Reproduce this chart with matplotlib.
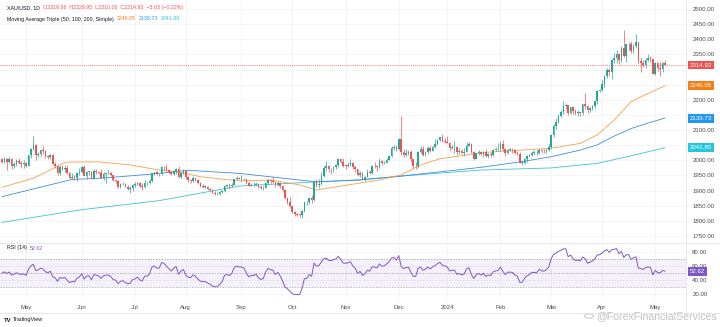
import numpy as np
import pandas as pd
import matplotlib
matplotlib.use("Agg")
import matplotlib.pyplot as plt
import matplotlib.transforms as mtransforms
from matplotlib.lines import Line2D
from matplotlib.patches import Circle

plt.rcParams['font.family'] = ['Liberation Sans', 'DejaVu Sans']

# ---------------------------------------------------------------- data ----
session_start = "2023-04-17"
session_end = "2024-05-07"
closed_days = ["2023-12-25", "2024-01-01"]

symbol = "XAU/USD, 1D"
first_open = 2004.0

close = [
    # Apr 2023
    1995, 2005, 1994, 2004, 1983, 1989, 1998, 1990, 1988, 1990,
    # May
    1983, 2017, 2039, 2050, 2017, 2022, 2034, 2030, 2015, 2011, 2018, 1989,
    1982, 1958, 1977, 1971, 1975, 1957, 1941, 1946, 1943, 1958, 1963,
    # Jun
    1978, 1948, 1962, 1963, 1940, 1965, 1961, 1957, 1943, 1955, 1958, 1958,
    1951, 1936, 1933, 1913, 1921, 1923, 1913, 1907, 1908, 1919,
    # Jul
    1921, 1926, 1915, 1911, 1925, 1925, 1932, 1957, 1961, 1955, 1955, 1979,
    1977, 1969, 1962, 1955, 1965, 1972, 1946, 1959, 1965,
    # Aug
    1944, 1934, 1933, 1942, 1936, 1925, 1915, 1913, 1913, 1907, 1901, 1892,
    1889, 1889, 1894, 1899, 1915, 1917, 1914, 1920, 1937, 1942, 1940,
    # Sep
    1940, 1938, 1926, 1916, 1919, 1919, 1922, 1913, 1908, 1910, 1924, 1934,
    1931, 1930, 1920, 1925, 1916, 1901, 1875, 1864, 1849,
    # Oct
    1828, 1822, 1821, 1820, 1833, 1861, 1861, 1874, 1868, 1932, 1919, 1923,
    1947, 1974, 1981, 1973, 1971, 1979, 1985, 2006, 1996, 1983,
    # Nov
    1982, 1985, 1992, 1978, 1970, 1950, 1958, 1940, 1946, 1963, 1959, 1981,
    1980, 1977, 1998, 1990, 1992, 2002, 2014, 2041, 2044, 2036,
    # Dec
    2072, 2029, 2019, 2025, 2028, 2004, 1981, 1980, 2027, 2036, 2019, 2027,
    2040, 2031, 2045, 2053, 2067, 2077, 2065, 2062,
    # Jan 2024
    2058, 2041, 2043, 2045, 2027, 2030, 2024, 2028, 2049, 2055, 2028, 2006,
    2023, 2029, 2021, 2029, 2014, 2020, 2018, 2033, 2037, 2039,
    # Feb
    2054, 2039, 2025, 2035, 2035, 2034, 2024, 2020, 1992, 1992, 2004, 2013,
    2017, 2025, 2025, 2024, 2035, 2031, 2030, 2034, 2044,
    # Mar
    2083, 2114, 2128, 2148, 2160, 2179, 2182, 2158, 2175, 2162, 2156, 2160,
    2157, 2186, 2181, 2165, 2172, 2179, 2195, 2230, 2233,
    # Apr
    2251, 2280, 2300, 2291, 2330, 2339, 2352, 2333, 2372, 2344, 2383, 2383,
    2361, 2379, 2392, 2327, 2322, 2316, 2332, 2337, 2335, 2286,
    # May
    2320, 2304, 2301, 2319.96, 2314.93,
]

high = [
    2007, 2010, 2008, 2012, 2007, 1994, 2004, 2009, 1999, 2000,
    1993, 2019, 2041, 2081, 2055, 2026, 2036, 2048, 2033, 2018, 2022, 2020,
    1993, 1985, 1984, 1984, 1985, 1985, 1961, 1957, 1951, 1962, 1974,
    1983, 1984, 1964, 1966, 1966, 1971, 1972, 1964, 1970, 1960, 1959, 1967,
    1961, 1953, 1940, 1934, 1925, 1930, 1926, 1917, 1915, 1922,
    1930, 1929, 1930, 1925, 1935, 1930, 1937, 1959, 1963, 1964, 1959, 1983,
    1982, 1987, 1972, 1966, 1967, 1975, 1982, 1962, 1970,
    1968, 1947, 1939, 1947, 1942, 1937, 1930, 1922, 1919, 1916, 1910, 1905,
    1899, 1895, 1899, 1903, 1919, 1922, 1925, 1924, 1939, 1949, 1946,
    1953, 1943, 1940, 1930, 1924, 1929, 1930, 1925, 1917, 1915, 1928, 1937,
    1937, 1947, 1932, 1931, 1927, 1917, 1904, 1880, 1880,
    1850, 1832, 1827, 1826, 1836, 1864, 1866, 1876, 1885, 1933, 1937, 1937,
    1962, 1980, 1997, 1985, 1976, 1983, 1989, 2009, 2009, 2008,
    1988, 1993, 2003, 1995, 1980, 1972, 1965, 1961, 1947, 1971, 1969, 1985,
    1993, 1984, 2007, 2002, 1997, 2008, 2018, 2048, 2052, 2051,
    2075, 2146, 2037, 2036, 2034, 2035, 2006, 1993, 2030, 2048, 2047, 2031,
    2047, 2047, 2048, 2071, 2069, 2078, 2088, 2075,
    2079, 2061, 2050, 2064, 2047, 2041, 2039, 2040, 2062, 2060, 2058, 2031,
    2025, 2035, 2032, 2032, 2037, 2023, 2027, 2036, 2043, 2056,
    2065, 2066, 2040, 2038, 2042, 2041, 2037, 2031, 2027, 1996, 2009, 2017,
    2022, 2031, 2033, 2035, 2041, 2039, 2039, 2037, 2053,
    2088, 2120, 2141, 2153, 2165, 2195, 2189, 2184, 2177, 2175, 2168, 2165,
    2161, 2187, 2222, 2183, 2176, 2184, 2196, 2234, 2236,
    2265, 2283, 2305, 2305, 2330, 2354, 2365, 2354, 2378, 2431, 2385, 2391,
    2393, 2385, 2417, 2392, 2343, 2333, 2338, 2352, 2346, 2336,
    2326, 2326, 2324, 2326, 2329.95,
]

low = [
    1992, 1992, 1969, 1992, 1971, 1975, 1983, 1988, 1975, 1976,
    1977, 1980, 2008, 2033, 2001, 2010, 2015, 2022, 2008, 2005, 2006, 1987,
    1974, 1952, 1951, 1967, 1962, 1954, 1937, 1937, 1936, 1932, 1953,
    1959, 1947, 1939, 1953, 1940, 1940, 1956, 1954, 1941, 1934, 1925, 1954,
    1947, 1931, 1925, 1910, 1910, 1918, 1911, 1903, 1893, 1900,
    1912, 1918, 1912, 1902, 1910, 1918, 1923, 1929, 1950, 1950, 1949, 1953,
    1969, 1965, 1957, 1952, 1952, 1955, 1942, 1942, 1955,
    1940, 1930, 1926, 1929, 1932, 1922, 1912, 1910, 1910, 1903, 1899, 1891,
    1884, 1885, 1884, 1891, 1896, 1912, 1904, 1912, 1917, 1934, 1937,
    1932, 1934, 1922, 1914, 1914, 1915, 1916, 1910, 1905, 1901, 1909, 1922,
    1925, 1926, 1913, 1915, 1910, 1899, 1873, 1857, 1846,
    1826, 1815, 1816, 1813, 1810, 1830, 1853, 1857, 1860, 1867, 1911, 1908,
    1920, 1946, 1966, 1960, 1954, 1962, 1970, 1979, 1990, 1978,
    1970, 1978, 1981, 1973, 1962, 1947, 1945, 1937, 1931, 1944, 1955, 1956,
    1975, 1965, 1975, 1985, 1987, 1990, 2000, 2012, 2035, 2031,
    2034, 2018, 2010, 2016, 2017, 1995, 1976, 1973, 1976, 2024, 2015, 2016,
    2020, 2028, 2030, 2042, 2050, 2064, 2060, 2058,
    2057, 2031, 2037, 2024, 2017, 2022, 2021, 2013, 2028, 2046, 2023, 2001,
    2004, 2018, 2017, 2010, 2011, 2009, 2012, 2015, 2030, 2030,
    2031, 2031, 2015, 2021, 2030, 2025, 2020, 2017, 1990, 1984, 1989, 1996,
    2011, 2015, 2019, 2019, 2020, 2025, 2025, 2025, 2030,
    2038, 2076, 2103, 2123, 2142, 2154, 2170, 2150, 2154, 2154, 2150, 2146,
    2146, 2150, 2171, 2155, 2160, 2165, 2173, 2187, 2225,
    2229, 2243, 2272, 2280, 2268, 2321, 2323, 2319, 2325, 2342, 2324, 2366,
    2354, 2355, 2372, 2322, 2291, 2310, 2305, 2327, 2325, 2285,
    2282, 2295, 2277, 2291, 2310.06,
]

# closes of the sessions just before the first bar, seeding RSI(14)
rsi_warmup = [1989, 1978, 1940, 1970, 1993, 1978, 1956, 1973, 1964, 1980,
              1969, 1984, 2020, 2021, 2008, 1990, 2003, 2015, 2040, 2004]

# moving averages, sampled at bar positions
ma50_at = [0, 13, 20, 25, 27, 40, 53, 65, 74, 82, 98, 111, 123, 130, 144,
           156, 165, 173, 181, 198, 206, 215, 227, 239, 246, 253, 260, 267, 274]
ma50 = [1911, 1941, 1968, 1990, 1994, 1995, 1985, 1968, 1960, 1946, 1932,
        1935, 1919, 1902, 1920, 1935, 1952, 1985, 2005, 2025, 2030, 2034,
        2040, 2056, 2084, 2133, 2194, 2221, 2246.05]
ma100_at = [0, 29, 41, 61, 77, 98, 130, 148, 165, 181, 198, 215, 227, 239,
            246, 253, 260, 267, 274]
ma100 = [1880, 1937, 1941, 1954, 1967, 1957, 1929, 1935, 1948, 1962, 1977,
         1996, 2012, 2034, 2051, 2080, 2105, 2123, 2139.73]
ma200_at = [0, 32, 65, 98, 130, 148, 165, 181, 198, 227, 246, 260, 274]
ma200 = [1795, 1836, 1867, 1915, 1929, 1936, 1948, 1958, 1968, 1975, 1990,
         2015, 2041.80]

month_labels = ["May", "Jun", "Jul", "Aug", "Sep", "Oct", "Nov", "Dec",
                "2024", "Feb", "Mar", "Apr", "May"]
price_ticks = list(range(1750, 2501, 50))
rsi_ticks = [20, 40, 60, 80]
rsi_levels = [30, 50, 70]

# --------------------------------------------------------------- style ----
UP, DOWN = "#26a69a", "#ef5350"
C50, C100, C200 = "#f5a04a", "#3f8fd2", "#3cc3d3"
L50, L100, L200 = "#f57f17", "#2196f3", "#26c6da"
RSI_C = "#7e57c2"
GRID = "#f0f2f6"
AXTXT = "#4a4d57"

W, H = 720, 327
fig = plt.figure(figsize=(W / 100, H / 100), dpi=100)
fig.patch.set_facecolor("white")


def fx(px):
    return px / W


def fy(py):
    return 1 - py / H


ax = fig.add_axes([0, fy(242), fx(686), 242 / H])
axr = fig.add_axes([0, fy(298), fx(686), 55 / H], sharex=ax)

dates = pd.bdate_range(session_start, session_end)
dates = dates[~dates.isin(pd.to_datetime(closed_days))]
n = len(close)
assert len(dates) == n == len(high) == len(low)
idx = np.arange(n)

c = np.asarray(close, float)
o = np.concatenate([[first_open], c[:-1]])
h = np.asarray(high, float)
lo = np.asarray(low, float)
rising = c >= o
col = np.where(rising, UP, DOWN)

month_pos = [i for i in range(1, n) if dates[i].month != dates[i - 1].month]

# ---- price pane
ax.set_xlim(-0.785, 282.7)
ax.set_ylim(1730.3, 2529.7)
for p in price_ticks:
    ax.axhline(p, color=GRID, lw=0.6, zorder=0)
for m in month_pos:
    ax.axvline(m, color=GRID, lw=0.6, zorder=0)
    axr.axvline(m, color=GRID, lw=0.6, zorder=0)

ax.plot(ma200_at, ma200, color=C200, lw=0.6, zorder=2)
ax.plot(ma100_at, ma100, color=C100, lw=0.6, zorder=2)
ax.plot(ma50_at, ma50, color=C50, lw=0.6, zorder=2)

ax.vlines(idx, np.minimum(lo, np.minimum(o, c)), np.maximum(h, np.maximum(o, c)),
          colors=col, lw=0.5, zorder=3)
ax.bar(idx, np.maximum(np.abs(c - o), 1.2), bottom=np.minimum(o, c), width=0.66,
       color=col, lw=0, zorder=4)

ax.axhline(c[-1], color=DOWN, lw=0.5, ls=(0, (1.5, 1.5)), zorder=2)

# scale labels that sit under a value tag are left blank
tags = [(c[-1], DOWN), (ma50[-1], L50), (ma100[-1], L100), (ma200[-1], L200)]
ax.yaxis.tick_right()
ax.set_yticks(price_ticks)
ax.set_yticklabels(["" if any(abs(p - t) < 16 for t, _ in tags) else f"{p:.2f}"
                    for p in price_ticks])
ax.tick_params(axis="y", length=0, pad=4.5, labelsize=4.4, labelcolor=AXTXT)
ax.tick_params(axis="x", length=0, labelbottom=False)
for s in ax.spines.values():
    s.set_visible(False)

blend = mtransforms.blended_transform_factory(ax.transAxes, ax.transData)


def price_tag(axis, tr, val, fc):
    axis.text(1.0 + 4 / 686, val, f"{val:.2f}", transform=tr, ha="left",
              va="center", fontsize=4.4, color="white", clip_on=False, zorder=10,
              bbox=dict(boxstyle="square,pad=0.32", fc=fc, ec="none"))


for val, fc in tags:
    price_tag(ax, blend, val, fc)


# ---- RSI pane
def rsi_wilder(values, period=14):
    v = np.asarray(values, float)
    d = np.diff(v)
    g = np.clip(d, 0, None)
    ls = np.clip(-d, 0, None)
    ag, al = g[:period].mean(), ls[:period].mean()
    out = np.full(len(v), np.nan)
    out[period] = 100 - 100 / (1 + ag / al)
    for k in range(period + 1, len(v)):
        ag = (ag * (period - 1) + g[k - 1]) / period
        al = (al * (period - 1) + ls[k - 1]) / period
        out[k] = 100.0 if al == 0 else 100 - 100 / (1 + ag / al)
    return out


rsi = rsi_wilder(list(rsi_warmup) + list(close))[len(rsi_warmup):]

axr.set_ylim(14.3, 92.9)
for r in rsi_ticks:
    axr.axhline(r, color=GRID, lw=0.6, zorder=0)
axr.axhspan(rsi_levels[0], rsi_levels[-1], color=RSI_C, alpha=0.08, lw=0, zorder=0)
for r in rsi_levels:
    axr.axhline(r, color="#9598a1", lw=0.5, ls=(0, (2, 2)), zorder=1)
axr.plot(idx, rsi, color=RSI_C, lw=0.7, zorder=3)

axr.yaxis.tick_right()
axr.set_yticks(rsi_ticks)
axr.set_yticklabels([f"{r:.2f}" for r in rsi_ticks])
axr.tick_params(axis="y", length=0, pad=4.5, labelsize=4.4, labelcolor=AXTXT)
axr.set_xticks(month_pos)
axr.set_xticklabels(month_labels)
axr.tick_params(axis="x", length=0, pad=5, labelsize=4.3, labelcolor=AXTXT)
for s in axr.spines.values():
    s.set_visible(False)
blend_r = mtransforms.blended_transform_factory(axr.transAxes, axr.transData)
price_tag(axr, blend_r, rsi[-1], RSI_C)

# pane separators and borders
for y in (242.5, 313):
    fig.add_artist(Line2D([0, fx(720)], [fy(y), fy(y)], color="#e0e3eb", lw=0.6))
fig.add_artist(Line2D([fx(686), fx(686)], [fy(0), fy(313)], color="#e0e3eb", lw=0.6))

# ---- legends
renderer = fig.canvas.get_renderer()


def text_run(x_px, y_px, parts, size, gap=3):
    x = x_px
    for s, colr in parts:
        t = fig.text(fx(x), fy(y_px), s, color=colr, fontsize=size,
                     ha="left", va="center")
        x += t.get_window_extent(renderer).width + gap


chg = c[-1] - c[-2]
ohlc = (f"O{o[-1]:.2f}  H{h[-1]:.2f}  L{lo[-1]:.2f}  C{c[-1]:.2f}  "
        f"{chg:+.2f} ({chg / c[-2] * 100:+.2f}%)").replace("-", "\u2212")
text_run(7, 8, [(symbol, "#131722"), (ohlc, DOWN)], 3.8)
text_run(7, 19, [("Moving Average Triple (50, 100, 200, Simple)", "#131722"),
                 (f"{ma50[-1]:.2f}", L50), (f"{ma100[-1]:.2f}", L100),
                 (f"{ma200[-1]:.2f}", L200)], 3.8)
text_run(7, 248, [("RSI (14)", "#131722"), (f"{rsi[-1]:.2f}", RSI_C)], 3.8)

# branding
fig.text(fx(4), fy(320), "TV", fontsize=4.2, fontweight="bold", color="#131722",
         va="center")
fig.text(fx(13), fy(320), "TradingView", fontsize=4.0, color="#131722", va="center")
fig.add_artist(Circle((fx(589), fy(316)), 4.5 / W, transform=fig.transFigure,
                      fill=False, ec="#b8b8b8", lw=0.8, alpha=0.7))
fig.text(fx(596), fy(316), "@ForexFinancialServices", fontsize=7.6,
         color="#b0b0b0", alpha=0.75, va="center", ha="left")

fig.savefig("out.png", dpi=100, facecolor="white")
